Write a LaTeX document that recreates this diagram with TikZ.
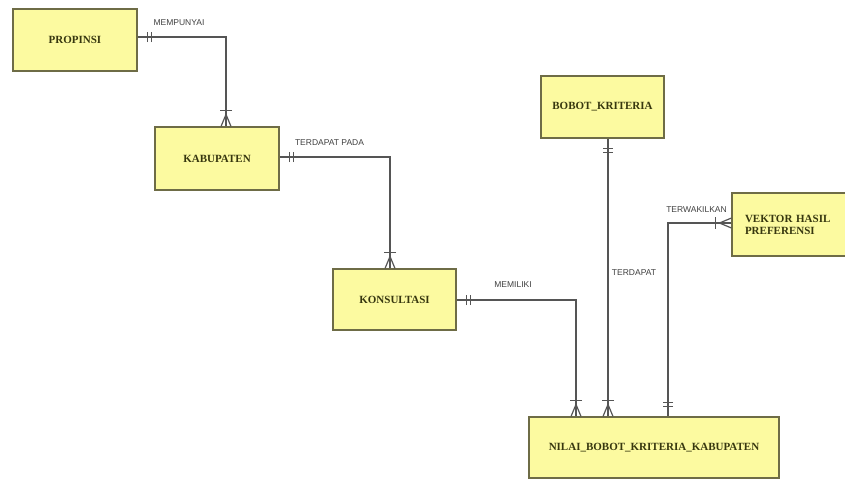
\documentclass[tikz,border=0pt]{standalone}
\usepackage{fontspec}
\setmainfont{Liberation Serif}
\newfontfamily\lblfont{Liberation Sans}
\definecolor{boxfill}{RGB}{252,250,160}
\definecolor{boxline}{RGB}{110,108,70}
\definecolor{boxtext}{RGB}{55,55,15}
\definecolor{connc}{RGB}{85,85,85}
\begin{document}
\begin{tikzpicture}[x=1pt,y=1pt,
  entity/.style={draw=boxline,line width=1.1pt,fill=boxfill,minimum height=62,
    inner sep=0,text=boxtext,font=\fontsize{11}{12}\selectfont\bfseries},
  conn/.style={draw=connc,line width=1.2pt},
  rel/.style={font=\lblfont\fontsize{8.5}{9}\selectfont,text=black!75,inner sep=0},
  manyone/.pic={\draw[conn] (0,-5) -- (12,0) -- (0,5); \draw[conn] (0,0)--(12,0); \draw[conn] (16,-6) -- (16,6);},
  oneone/.pic={\draw[conn] (10,-5) -- (10,5); \draw[conn] (14,-5) -- (14,5);}
]
\useasboundingbox (0,0) rectangle (845,-483);
\fill[white] (0,0) rectangle (845,-483);

\node[entity,minimum width=124] (prop) at (75,-40) {PROPINSI};
\node[entity,minimum width=124,minimum height=63] (kab) at (217,-158.5) {KABUPATEN};
\node[entity,minimum width=123,minimum height=61] (kons) at (394.5,-299.5) {KONSULTASI};
\node[entity,minimum width=123] (bobot) at (602.5,-107) {BOBOT\_KRITERIA};
\node[entity,minimum width=114,minimum height=63,align=left,text width=88] (vek) at (789,-224.5) {VEKTOR HASIL\\PREFERENSI};
\node[entity,minimum width=250,minimum height=61] (nilai) at (654,-447.5) {NILAI\_BOBOT\_KRITERIA\_KABUPATEN};

% connectors
\draw[conn] ([yshift=3]prop.east) -| ([xshift=9]kab.north);
\draw[conn] ([yshift=1.5]kab.east) -| ([xshift=-4.5]kons.north);
\draw[conn] ([yshift=-0.5]kons.east) -| ([xshift=-78]nilai.north);
\draw[conn] ([xshift=5.5]bobot.south) -- ([xshift=-46]nilai.north);
\draw[conn] ([yshift=1.5]vek.west) -| ([xshift=14]nilai.north);

% end marks
\pic at ([yshift=3]prop.east) {oneone};
\pic[rotate=90] at ([xshift=9]kab.north) {manyone};
\pic at ([yshift=1.5]kab.east) {oneone};
\pic[rotate=90] at ([xshift=-4.5]kons.north) {manyone};
\pic at ([yshift=-0.5]kons.east) {oneone};
\pic[rotate=90] at ([xshift=-78]nilai.north) {manyone};
\pic[rotate=-90] at ([xshift=5.5]bobot.south) {oneone};
\pic[rotate=90] at ([xshift=-46]nilai.north) {manyone};
\pic[rotate=180] at ([yshift=1.5]vek.west) {manyone};
\pic[rotate=90] at ([xshift=14]nilai.north) {oneone};

% relationship labels
\node[rel] (r1) at (179,-23) {MEMPUNYAI};
\node[rel] (r2) at (329.5,-143) {TERDAPAT PADA};
\node[rel] (r3) at (513,-285) {MEMILIKI};
\node[rel] (r4) at (634,-273) {TERDAPAT};
\node[rel] (r5) at (696.5,-210) {TERWAKILKAN};
\end{tikzpicture}
\end{document}
